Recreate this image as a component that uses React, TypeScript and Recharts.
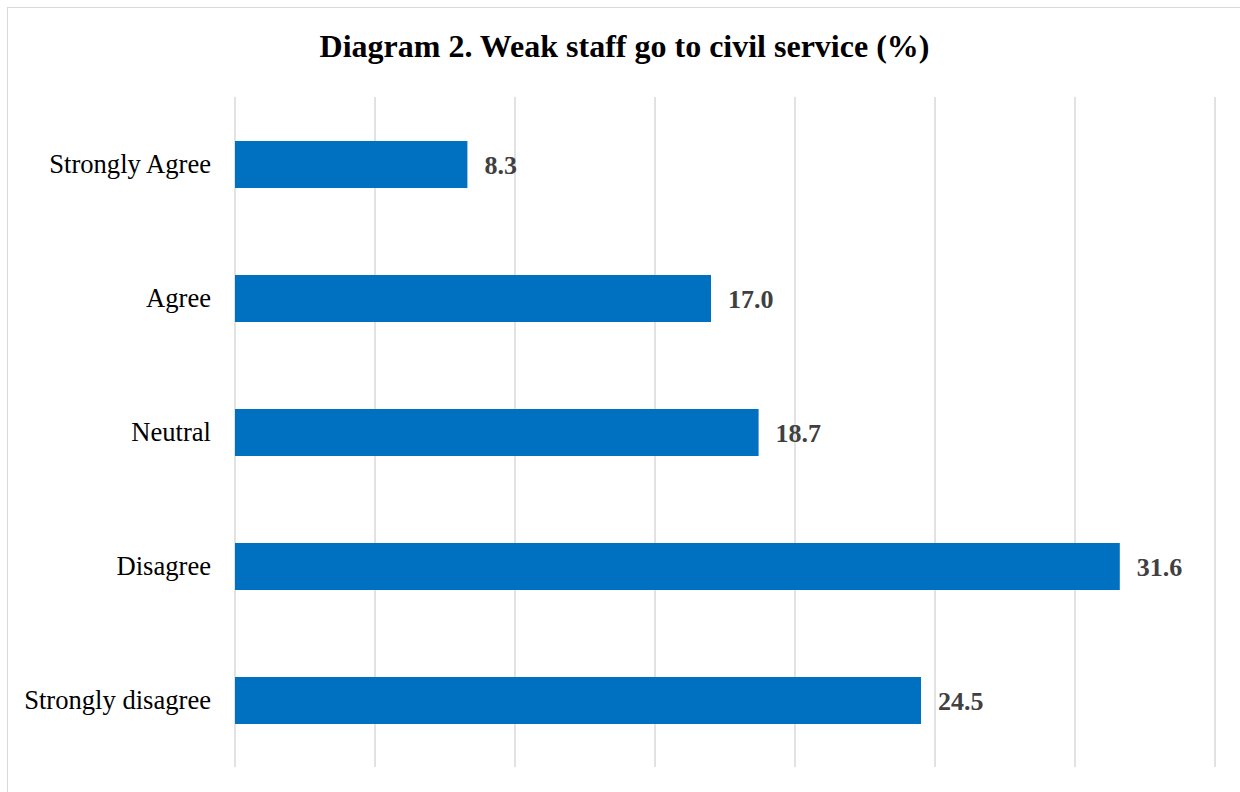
import { BarChart, Bar, XAxis, YAxis, CartesianGrid, LabelList } from 'recharts'

const categories = ['Strongly Agree', 'Agree', 'Neutral', 'Disagree', 'Strongly disagree']
const values = [8.3, 17.0, 18.7, 31.6, 24.5]
const xTicks = [0, 5, 10, 15, 20, 25, 30, 35]

const data = categories.map((c, i) => ({ name: c, value: values[i] }))

const serif = '"Liberation Serif", "Times New Roman", serif'

// x axis carries no labels in the original, only its gridlines
const NoTick = () => <g />

export default function App() {
  return (
    <div style={{ position: 'fixed', left: 0, top: 0, width: 1240, height: 792, overflow: 'hidden', background: '#fff' }}>
      <div style={{
        position: 'absolute', left: 7, top: 7, width: 1260, height: 820,
        border: '1px solid #d9d9d9', boxSizing: 'border-box',
      }} />
      <div style={{
        position: 'absolute', left: 0, top: 27, width: 1249, textAlign: 'center',
        fontFamily: serif, fontWeight: 'bold', fontSize: 32, color: '#000', lineHeight: '38px',
      }}>
        Diagram 2. Weak staff go to civil service (%)
      </div>
      <div style={{ position: 'absolute', left: 0, top: 0 }}>
        <BarChart
          width={1240}
          height={792}
          data={data}
          layout="vertical"
          margin={{ top: 97, right: 25, bottom: 24, left: 0 }}
          barSize={47}
        >
          <CartesianGrid horizontal={false} stroke="#d9d9d9" strokeWidth={1.5} />
          <XAxis
            type="number"
            domain={[0, 35]}
            ticks={xTicks}
            height={1}
            interval={0}
            tick={<NoTick />}
            axisLine={false}
            tickLine={false}
          />
          <YAxis
            type="category"
            dataKey="name"
            width={235}
            axisLine={false}
            tickLine={false}
            tickSize={0}
            tickMargin={24}
            tick={{ fontFamily: serif, fontSize: 26.6, fill: '#000' }}
          />
          <Bar dataKey="value" fill="#0070C0" isAnimationActive={false}>
            <LabelList
              dataKey="value"
              position="right"
              offset={17}
              formatter={(v: any) => Number(v).toFixed(1)}
              style={{ fontFamily: serif, fontSize: 26, fontWeight: 'bold', fill: '#404040' }}
            />
          </Bar>
        </BarChart>
      </div>
    </div>
  )
}
